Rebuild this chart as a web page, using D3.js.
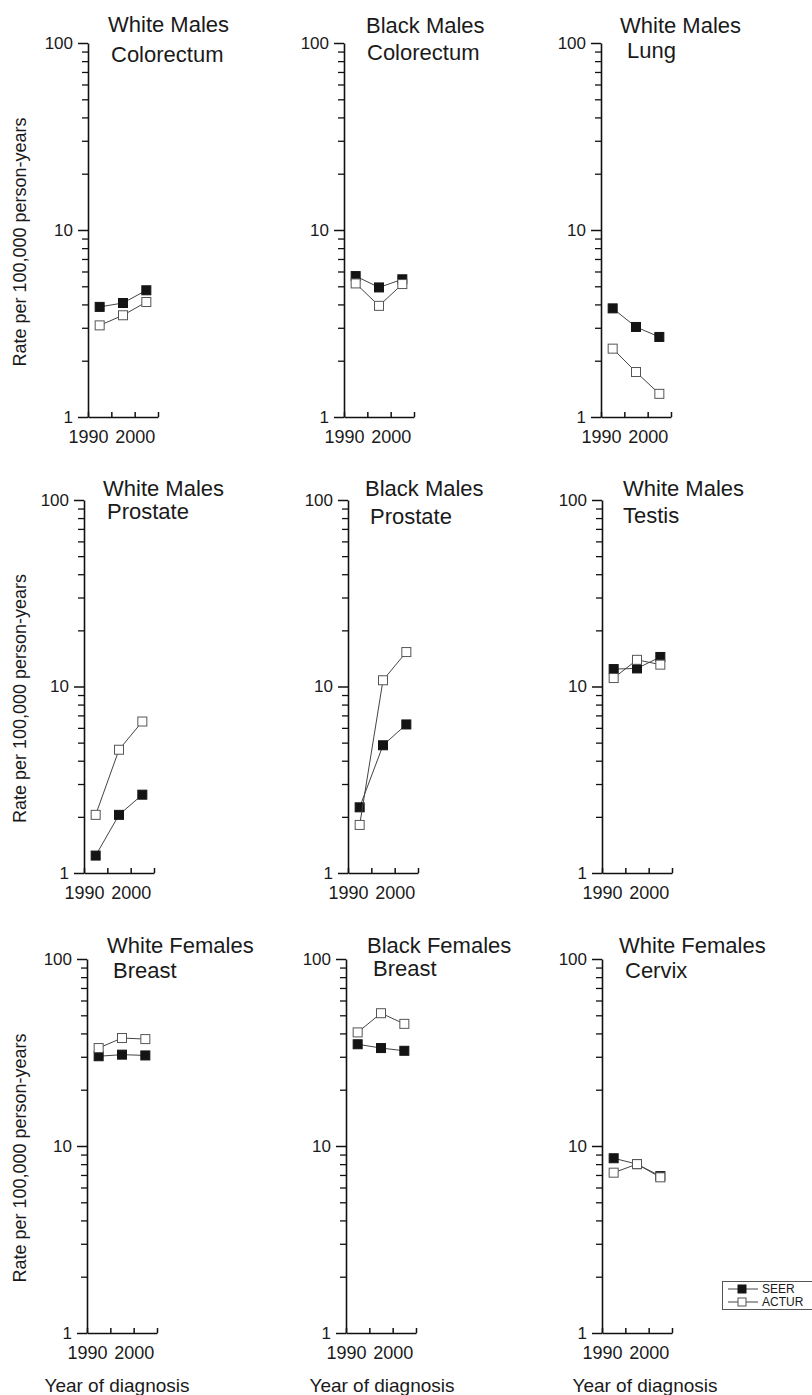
<!DOCTYPE html>
<html>
<head>
<meta charset="utf-8">
<script src="https://cdn.jsdelivr.net/npm/d3@7"></script>
<style>
  html, body { margin: 0; padding: 0; background: #fff; }
  svg { display: block; }
  text { font-family: 'Liberation Sans', Arial, Helvetica, sans-serif; fill: #1a1a1a; }
</style>
</head>
<body>
<svg id="chart" width="812" height="1395"></svg>
<script>
// ---------------- data ----------------
const years = [1992.5, 1997.5, 2002.5];
const panelTitles = [
  ["White Males", "Colorectum"],
  ["Black Males", "Colorectum"],
  ["White Males", "Lung"],
  ["White Males", "Prostate"],
  ["Black Males", "Prostate"],
  ["White Males", "Testis"],
  ["White Females", "Breast"],
  ["Black Females", "Breast"],
  ["White Females", "Cervix"]
];
const seriesNames = ["SEER", "ACTUR"];
const seerRates = [
  [3.88, 4.07, 4.76],
  [5.67, 4.93, 5.45],
  [3.81, 3.03, 2.68],
  [1.24, 2.05, 2.63],
  [2.25, 4.84, 6.26],
  [12.4, 12.5, 14.4],
  [30.2, 30.8, 30.5],
  [35.0, 33.4, 32.3],
  [8.6, 8.0, 6.9]
];
const acturRates = [
  [3.09, 3.50, 4.12],
  [5.18, 3.93, 5.14],
  [2.32, 1.74, 1.33],
  [2.05, 4.58, 6.49],
  [1.81, 10.8, 15.3],
  [11.1, 13.9, 13.1],
  [33.4, 37.8, 37.3],
  [40.5, 51.3, 45.0],
  [7.2, 8.0, 6.8]
];
const yMajorTicks = [1, 10, 100];
const yMinorTicks = [2, 3, 4, 5, 6, 7, 8, 9, 20, 30, 40, 50, 60, 70, 80, 90];
const xTicks = [1990, 1995, 2000, 2005];
const xTickLabels = [1990, 2000];
const yAxisTitle = "Rate per 100,000 person-years";
const xAxisTitle = "Year of diagnosis";

// ---------------- layout ----------------
const rowLayout = [
  { top: 43, bottom: 417 },
  { top: 500, bottom: 873 },
  { top: 959, bottom: 1333 }
];
const axisX = [
  [88, 344, 601],
  [84, 348, 602],
  [87, 346, 602]
];
// title offsets: [dx1, base1, dx2, base2]
const titlePos = [
  [20, 32, 23, 62], [22, 33, 23, 60], [19, 33, 26, 58],
  [19, 496, 23, 519], [17, 496, 22, 524], [21, 496, 21, 523],
  [20, 953, 26, 978], [21, 953, 27, 976], [17, 953, 23, 978]
];
const xTitleOffset = [30, 36, 43];
const plotW = 70;

const svg = d3.select("#chart");
const font = "'Liberation Sans', Arial, Helvetica, sans-serif";

panelTitles.forEach((titles, i) => {
  const row = Math.floor(i / 3), col = i % 3;
  const ax = axisX[row][col];
  const { top, bottom } = rowLayout[row];
  const x = d3.scaleLinear().domain([1990, 2005]).range([ax, ax + plotW]);
  const y = d3.scaleLog().domain([1, 100]).range([bottom, top]);

  const g = svg.append("g");

  // y axis minor ticks
  const yMinor = d3.axisLeft(y).tickValues(yMinorTicks).tickSize(6).tickFormat("");
  const gm = g.append("g").attr("transform", `translate(${ax},0)`).call(yMinor);
  gm.select(".domain").remove();
  gm.selectAll("line").attr("stroke", "#111").attr("stroke-width", 1.3);

  // y axis major
  const yMajor = d3.axisLeft(y).tickValues(yMajorTicks).tickSize(10).tickSizeOuter(0)
    .tickPadding(5).tickFormat(d3.format("d"));
  const gy = g.append("g").attr("transform", `translate(${ax},0)`).call(yMajor);
  gy.select(".domain").attr("stroke", "#111").attr("stroke-width", 1.6);
  gy.selectAll("line").attr("stroke", "#111").attr("stroke-width", 1.5);
  gy.selectAll("text").attr("font-size", 17).attr("font-family", font).attr("fill", "#1a1a1a");

  // x axis
  const xAxis = d3.axisBottom(x).tickValues(xTicks).tickSize(-5).tickSizeOuter(0)
    .tickPadding(0).tickFormat(d => xTickLabels.includes(d) ? d3.format("d")(d) : "");
  const gx = g.append("g").attr("transform", `translate(0,${bottom})`).call(xAxis);
  gx.select(".domain").attr("stroke", "#111").attr("stroke-width", 1.6);
  gx.selectAll("line").attr("stroke", "#111").attr("stroke-width", 1.5);
  gx.selectAll("text").attr("font-size", 18).attr("font-family", font).attr("fill", "#1a1a1a")
    .attr("dy", null).attr("y", 26);

  // titles
  const tp = titlePos[i];
  g.append("text").attr("x", ax + tp[0]).attr("y", tp[1]).attr("font-size", 22).text(titles[0]);
  g.append("text").attr("x", ax + tp[2]).attr("y", tp[3]).attr("font-size", 22).text(titles[1]);

  // axis titles
  if (col === 0) {
    const cy = (top + bottom) / 2 + 12;
    g.append("text").attr("transform", `translate(26,${cy}) rotate(-90)`)
      .attr("text-anchor", "middle").attr("font-size", 18).text(yAxisTitle);
  }
  if (row === 2) {
    g.append("text").attr("x", ax + xTitleOffset[col]).attr("y", 1392)
      .attr("text-anchor", "middle").attr("font-size", 19).text(xAxisTitle);
  }

  // series
  const line = d3.line().x((d, k) => x(years[k])).y(d => y(d));
  const series = [
    { vals: seerRates[i], fill: "#141414", stroke: "#141414" },
    { vals: acturRates[i], fill: "#ffffff", stroke: "#555" }
  ];
  const sq = 9;
  series.forEach(s => {
    g.append("path").attr("d", line(s.vals)).attr("fill", "none")
      .attr("stroke", "#444").attr("stroke-width", 1);
    g.selectAll(null).data(s.vals).enter().append("rect")
      .attr("x", (d, k) => x(years[k]) - sq / 2)
      .attr("y", d => y(d) - sq / 2)
      .attr("width", sq).attr("height", sq)
      .attr("fill", s.fill).attr("stroke", s.stroke).attr("stroke-width", 1);
  });
});

// legend
const lg = svg.append("g");
lg.append("rect").attr("x", 722.5).attr("y", 1281.5).attr("width", 100).attr("height", 28)
  .attr("fill", "#fff").attr("stroke", "#555").attr("stroke-width", 1);
const legendStyles = [
  { fill: "#141414", stroke: "#141414" },
  { fill: "#ffffff", stroke: "#555" }
];
seriesNames.forEach((name, k) => {
  const cy = 1289 + k * 13;
  lg.append("line").attr("x1", 728).attr("x2", 758).attr("y1", cy).attr("y2", cy)
    .attr("stroke", "#444").attr("stroke-width", 1);
  lg.append("rect").attr("x", 742 - 4).attr("y", cy - 4).attr("width", 8).attr("height", 8)
    .attr("fill", legendStyles[k].fill).attr("stroke", legendStyles[k].stroke).attr("stroke-width", 1);
  lg.append("text").attr("x", 762).attr("y", cy + 4).attr("font-size", 12).text(name);
});
</script>
</body>
</html>
